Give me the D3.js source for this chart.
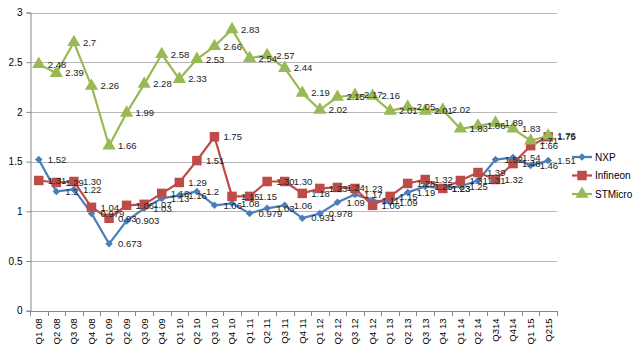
<!DOCTYPE html>
<html>
<head>
<meta charset="utf-8">
<script src="https://cdn.jsdelivr.net/npm/d3@7"></script>
<style>
  body { margin: 0; background: #fff; }
  svg { font-family: "Liberation Sans", Arial, sans-serif; }
</style>
</head>
<body>
<svg id="chart" width="640" height="352"></svg>
<script>
var quarters = ["Q1 08", "Q2 08", "Q3 08", "Q4 08", "Q1 09", "Q2 09", "Q3 09", "Q4 09",
  "Q1 10", "Q2 10", "Q3 10", "Q4 10", "Q1 11", "Q2 11", "Q3 11", "Q4 11",
  "Q1 12", "Q2 12", "Q3 12", "Q4 12", "Q1 13", "Q2 13", "Q3 13", "Q4 13",
  "Q1 14", "Q2 14", "Q314", "Q414", "Q1 15", "Q215"];

var nxp = [1.52, 1.2, 1.22, 0.979, 0.673, 0.903, 1.03, 1.13, 1.16, 1.2, 1.06, 1.08,
  0.979, 1.03, 1.06, 0.931, 0.978, 1.09, 1.17, 1.11, 1.09, 1.19, 1.25, 1.23,
  1.25, 1.31, 1.52, 1.54, 1.46, 1.51];

var infineon = [1.31, 1.29, 1.30, 1.04, 0.93, 1.06, 1.07, 1.18, 1.29, 1.51, 1.75, 1.15,
  1.15, 1.30, 1.30, 1.18, 1.23, 1.24, 1.23, 1.06, 1.15, 1.28, 1.32, 1.23,
  1.31, 1.39, 1.32, 1.48, 1.66, 1.75];

var stmicro = [2.48, 2.39, 2.7, 2.26, 1.66, 1.99, 2.28, 2.58, 2.33, 2.53, 2.66, 2.83,
  2.54, 2.57, 2.44, 2.19, 2.02, 2.15, 2.17, 2.16, 2.01, 2.05, 2.01, 2.02,
  1.83, 1.86, 1.89, 1.83, 1.71, 1.76];

var yTicks = [0, 0.5, 1, 1.5, 2, 2.5, 3];

var svg = d3.select("#chart");

// plot area edges, picked by eye from the reference
var plotLeft = 30, plotRight = 557, plotTop = 12.5, plotBottom = 310.7;

var x = d3.scaleBand().domain(quarters).range([plotLeft, plotRight]);
var y = d3.scaleLinear().domain([0, 3]).range([plotBottom, plotTop]);

var series = [
  { name: "NXP", values: nxp, color: "#4a7ebb", marker: "diamond", fmt: function (v) { return String(v); } },
  { name: "Infineon", values: infineon, color: "#be4b48", marker: "square", fmt: d3.format(".2f") },
  { name: "STMicro", values: stmicro, color: "#98b954", marker: "triangle", fmt: function (v) { return String(v); } }
];

function markerPath(type) {
  if (type == "diamond") return d3.symbol().type(d3.symbolDiamond2).size(36)();
  if (type == "square") return d3.symbol().type(d3.symbolSquare).size(90)();
  return d3.symbol().type(d3.symbolTriangle).size(75)();
}

// horizontal gridlines
svg.append("g")
  .selectAll("line")
  .data(yTicks.slice(1))
  .enter().append("line")
  .attr("x1", plotLeft).attr("x2", plotRight)
  .attr("y1", function (d) { return Math.round(y(d)) + 0.5; })
  .attr("y2", function (d) { return Math.round(y(d)) + 0.5; })
  .style("stroke", "#b7b7b7")
  .style("stroke-width", 1);

// y axis
var leftAxis = d3.axisLeft(y).tickValues(yTicks).tickSize(4).tickPadding(4)
  .tickFormat(function (d) { return String(d); });
var ya = svg.append("g")
  .attr("transform", "translate(" + (plotLeft + 0.5) + ",0)")
  .call(leftAxis);
ya.select(".domain").style("stroke", "#868686");
ya.selectAll(".tick line").style("stroke", "#868686");
ya.selectAll("text").style("font-size", "10px").style("fill", "#000");

// x axis (labels only), ticks drawn at category boundaries
var bottomAxis = d3.axisBottom(x).tickSize(0).tickPadding(0);
var xa = svg.append("g")
  .attr("transform", "translate(0," + (Math.round(plotBottom) + 0.5) + ")")
  .call(bottomAxis);
xa.select(".domain").remove();
xa.selectAll("text")
  .attr("transform", "rotate(-90)")
  .attr("x", -7)
  .attr("y", 0)
  .attr("dy", "0.35em")
  .style("text-anchor", "end")
  .style("font-size", "9.5px")
  .style("fill", "#000");

svg.append("line")
  .attr("x1", plotLeft).attr("x2", plotRight)
  .attr("y1", Math.round(plotBottom) + 0.5).attr("y2", Math.round(plotBottom) + 0.5)
  .style("stroke", "#868686");

var bounds = quarters.map(function (q) { return x(q); }).concat([plotRight]);
svg.append("g")
  .selectAll("line")
  .data(bounds)
  .enter().append("line")
  .attr("x1", function (d) { return Math.round(d) + 0.5; })
  .attr("x2", function (d) { return Math.round(d) + 0.5; })
  .attr("y1", Math.round(plotBottom))
  .attr("y2", Math.round(plotBottom) + 5)
  .style("stroke", "#868686");

var cx = function (i) { return x(quarters[i]) + x.bandwidth() / 2; };

// lines and markers
series.forEach(function (s) {
  var line = d3.line()
    .x(function (d, i) { return cx(i); })
    .y(function (d) { return y(d); });

  svg.append("path")
    .datum(s.values)
    .attr("d", line)
    .style("fill", "none")
    .style("stroke", s.color)
    .style("stroke-width", 2.2)
    .style("stroke-linejoin", "round");

  svg.append("g")
    .selectAll("path")
    .data(s.values)
    .enter().append("path")
    .attr("d", markerPath(s.marker))
    .attr("transform", function (d, i) { return "translate(" + cx(i) + "," + y(d) + ")"; })
    .style("fill", s.color);
});

// data labels
series.forEach(function (s) {
  svg.append("g")
    .selectAll("text")
    .data(s.values)
    .enter().append("text")
    .attr("x", function (d, i) { return cx(i) + 9; })
    .attr("y", function (d) { return y(d); })
    .attr("dy", "0.35em")
    .style("font-size", "9.5px")
    .style("fill", "#222")
    .text(function (d) { return s.fmt(d); });
});

// legend
var legend = svg.append("g")
  .selectAll("g")
  .data(series)
  .enter().append("g")
  .attr("transform", function (d, i) { return "translate(572," + (157 + i * 18.5) + ")"; });

legend.append("line")
  .attr("x1", 0).attr("x2", 20)
  .style("stroke", function (d) { return d.color; })
  .style("stroke-width", 2.2);

legend.append("path")
  .attr("d", function (d) { return markerPath(d.marker); })
  .attr("transform", "translate(10,0)")
  .style("fill", function (d) { return d.color; });

legend.append("text")
  .attr("x", 23)
  .attr("dy", "0.35em")
  .style("font-size", "10px")
  .text(function (d) { return d.name; });
</script>
</body>
</html>
